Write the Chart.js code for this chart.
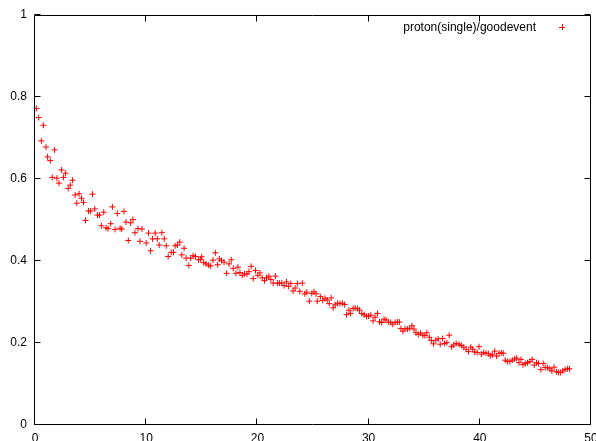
<!DOCTYPE html>
<html>
<head>
<meta charset="utf-8">
<script src="https://cdn.jsdelivr.net/npm/chart.js@4/dist/chart.umd.min.js"></script>
<style>
html,body{margin:0;padding:0;background:#fff;}
canvas{display:block;}
</style>
</head>
<body>
<canvas id="c" width="596" height="441"></canvas>
<script>
const seriesLabel = "proton(single)/goodevent";
const xTicks = [0, 10, 20, 30, 40, 50];
const yTicks = [0, 0.2, 0.4, 0.6, 0.8, 1];
const yTickLabels = ["0", "0.2", "0.4", "0.6", "0.8", "1"];

const xValues = [
0.12,0.33,0.57,0.75,0.99,1.13,1.37,1.55,1.76,1.97,2.15,2.39,2.57,2.75,2.99,3.17,3.37,3.61,3.76,3.97,
4.18,4.36,4.54,4.81,5.00,5.17,5.38,5.62,5.80,5.97,6.18,6.39,6.57,6.81,6.96,7.20,7.41,7.65,7.80,8.00,
8.18,8.39,8.60,8.81,8.99,9.26,9.44,9.62,10.00,10.21,10.39,10.57,10.81,11.00,11.17,11.41,11.62,11.80,11.98,
12.25,12.45,12.60,12.81,13.02,13.20,13.41,13.59,13.83,14.00,14.22,14.43,14.70,14.90,14.99,15.17,15.38,15.59,15.80,16.01,
16.22,16.43,16.58,16.78,17.00,17.23,17.45,17.65,17.83,18.07,18.25,18.43,18.64,18.84,19.06,19.24,19.44,19.62,19.83,20.04,
20.22,20.43,20.64,20.82,21.03,21.21,21.42,21.62,21.80,21.98,22.19,22.40,22.61,22.79,23.00,23.21,23.39,23.59,23.81,24.04,
24.26,24.44,24.67,24.89,25.09,25.27,25.39,
25.66,25.87,26.08,26.28,26.46,26.64,26.82,27.00,27.21,27.42,27.63,27.84,28.02,28.23,28.38,28.61,28.79,29.00,29.18,29.39,
29.60,29.81,29.99,30.20,30.40,30.58,30.80,30.98,31.18,31.39,31.57,31.78,31.99,32.17,32.38,32.59,32.77,32.91,33.09,33.27,
33.49,33.69,33.90,34.08,34.26,34.47,34.68,34.88,35.06,35.24,35.46,35.64,35.84,36.05,36.26,36.44,36.65,36.83,37.03,37.25,
37.46,37.66,37.88,
38.14,38.35,38.56,38.77,38.98,39.19,39.36,39.54,39.76,39.93,40.14,40.35,40.56,40.77,40.95,41.13,41.34,41.51,41.73,41.94,
42.11,42.29,42.50,42.71,42.92,43.13,43.31,43.52,43.70,43.88,44.09,44.29,44.50,44.71,44.89,45.10,45.28,45.49,45.70,45.88,
46.09,46.30,46.48,46.68,46.89,47.07,47.25,47.46,47.67,47.88,48.06
];
const yValues = [
0.772,0.750,0.693,0.731,0.678,0.654,0.645,0.604,0.671,0.602,0.590,0.622,0.604,0.614,0.577,0.585,0.597,0.561,0.541,0.564,
0.553,0.543,0.499,0.522,0.522,0.563,0.527,0.512,0.512,0.486,0.519,0.481,0.479,0.491,0.532,0.477,0.516,0.480,0.478,0.521,
0.495,0.450,0.493,0.501,0.469,0.479,0.448,0.478,0.444,0.468,0.425,0.454,0.468,0.454,0.439,0.469,0.454,0.437,0.411,
0.421,0.421,0.437,0.439,0.446,0.415,0.431,0.407,0.389,0.407,0.413,0.411,0.403,0.404,0.410,0.396,0.393,0.390,0.388,0.402,
0.420,0.391,0.405,0.401,0.397,0.370,0.393,0.403,0.382,0.370,0.385,0.372,0.365,0.369,0.368,0.374,0.387,0.357,0.377,0.365,
0.371,0.359,0.352,0.359,0.363,0.355,0.346,0.363,0.346,0.346,0.346,0.340,0.349,0.338,0.345,0.327,0.334,0.345,0.326,0.346,
0.320,0.324,0.302,0.321,0.325,0.320,0.302,
0.313,0.304,0.309,0.305,0.296,0.310,0.286,0.293,0.297,0.296,0.297,0.294,0.269,0.280,0.272,0.284,0.285,0.284,0.280,0.272,
0.269,0.265,0.266,0.268,0.254,0.263,0.272,0.252,0.250,0.258,0.256,0.251,0.250,0.246,0.250,0.251,0.251,0.235,0.229,0.235,
0.234,0.236,0.242,0.234,0.225,0.221,0.224,0.219,0.218,0.225,0.214,0.206,0.198,0.207,0.210,0.197,0.211,0.199,0.201,0.219,
0.191,0.195,0.199,
0.197,0.194,0.190,0.185,0.179,0.190,0.185,0.178,0.177,0.191,0.173,0.177,0.175,0.174,0.169,0.171,0.180,0.168,0.175,0.176,
0.175,0.158,0.155,0.155,0.158,0.161,0.163,0.152,0.160,0.147,0.150,0.152,0.155,0.160,0.146,0.152,0.150,0.135,0.150,0.140,
0.140,0.137,0.132,0.141,0.130,0.128,0.128,0.132,0.135,0.137,0.137
];

const points = xValues.map((x, i) => ({x: x, y: yValues[i]}));
const FONT = "Liberation Sans, Arial, Helvetica, sans-serif";

const framePlugin = {
  id: 'frame',
  afterDraw(chart) {
    const ctx = chart.ctx;
    const a = chart.chartArea;
    const L = Math.floor(a.left) - 0.5, R = Math.floor(a.right) - 0.5;
    const T = Math.floor(a.top) + 0.5, B = Math.floor(a.bottom) - 0.5;
    ctx.save();
    ctx.strokeStyle = '#000';
    ctx.lineWidth = 1;
    ctx.beginPath();
    ctx.rect(L, T, R - L, B - T);
    const tl = 6;
    const xs = chart.scales.x, ys = chart.scales.y;
    xTicks.forEach(v => {
      const p = Math.round(xs.getPixelForValue(v)) - 0.5;
      ctx.moveTo(p, B); ctx.lineTo(p, B - tl);
      ctx.moveTo(p, T); ctx.lineTo(p, T + tl);
    });
    yTicks.forEach(v => {
      const p = Math.round(ys.getPixelForValue(v)) - 0.5;
      ctx.moveTo(L, p); ctx.lineTo(L + tl, p);
      ctx.moveTo(R, p); ctx.lineTo(R - tl, p);
    });
    ctx.stroke();
    // key
    ctx.font = "12px " + FONT;
    ctx.fillStyle = '#000';
    ctx.textAlign = 'right';
    ctx.textBaseline = 'middle';
    ctx.fillText(seriesLabel, 536, 28);
    ctx.strokeStyle = '#ff0000';
    ctx.beginPath();
    ctx.moveTo(559, 27.5); ctx.lineTo(565, 27.5);
    ctx.moveTo(562.5, 24); ctx.lineTo(562.5, 30);
    ctx.stroke();
    ctx.restore();
  }
};

new Chart(document.getElementById('c'), {
  type: 'scatter',
  data: {
    datasets: [{
      label: seriesLabel,
      data: points,
      pointStyle: 'cross',
      pointRadius: 3,
      pointBorderColor: '#ff0000',
      pointBackgroundColor: '#ff0000',
      pointBorderWidth: 1,
      showLine: false
    }]
  },
  options: {
    responsive: false,
    devicePixelRatio: 1,
    animation: false,
    layout: { padding: { left: 0, right: 3, top: 15, bottom: 0 } },
    plugins: { legend: { display: false }, tooltip: { enabled: false } },
    scales: {
      x: {
        type: 'linear', min: 0, max: 50,
        border: { display: false },
        grid: { display: false, drawTicks: false },
        ticks: {
          stepSize: 10, color: '#000', padding: 6, maxRotation: 0,
          font: { family: FONT, size: 12 }
        },
        afterFit(s) { s.height = 16; s.paddingLeft = 0; s.paddingRight = 0; }
      },
      y: {
        type: 'linear', min: 0, max: 1,
        border: { display: false },
        grid: { display: false, drawTicks: false },
        ticks: {
          stepSize: 0.2, color: '#000', padding: 8,
          font: { family: FONT, size: 12 },
          callback: (v, i) => yTickLabels[i]
        },
        afterFit(s) { s.width = 35; s.paddingTop = 0; s.paddingBottom = 0; }
      }
    }
  },
  plugins: [framePlugin]
});
</script>
</body>
</html>
